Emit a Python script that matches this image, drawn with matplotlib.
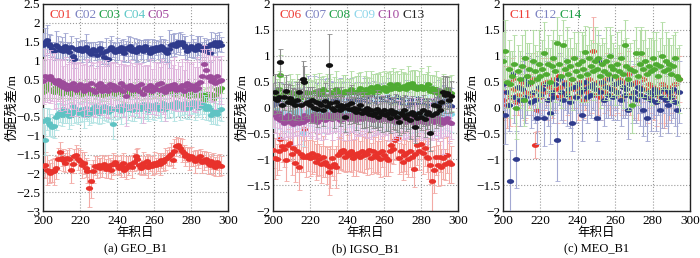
import numpy as np
import matplotlib
matplotlib.use("Agg")
import matplotlib.pyplot as plt
from matplotlib.path import Path
from matplotlib.ticker import FuncFormatter, MultipleLocator

plt.rcParams['font.family'] = ['Liberation Serif', 'Noto Sans CJK SC']
plt.rcParams['axes.unicode_minus'] = True


def arr(s):
    return np.array(s.split(), dtype=float)


# ── Data: day of year and pseudorange residuals (m)
days_ab = np.arange(200, 297)
days_c = np.arange(200, 295)

# (a) GEO_B1
c01 = arr("""
-1.80 -1.78 -1.92 -1.95 -1.98 -1.93 -1.95 -1.85 -1.62 -1.42
-1.60 -1.65 -1.72 -1.58 -1.62 -1.90 -1.75 -1.55 -1.50 -1.62
-1.68 -1.78 -1.72 -1.85 -1.95 -2.40 -2.20 -1.95 -1.80 -1.83
-1.78 -1.85 -1.80 -1.75 -1.88 -1.82 -1.78 -1.90 -1.75 -1.70
-1.78 -1.85 -1.80 -1.72 -1.90 -1.85 -1.80 -1.75 -1.82 -1.70
-1.55 -1.62 -1.78 -1.85 -1.72 -1.80 -1.68 -1.82 -1.75 -1.80
-1.72 -1.78 -1.70 -1.75 -1.65 -1.70 -1.62 -1.58 -1.55 -1.48
-1.65 -1.40 -1.28 -1.25 -1.32 -1.40 -1.45 -1.55 -1.50 -1.62
-1.55 -1.60 -1.68 -1.58 -1.62 -1.55 -1.70 -1.65 -1.62 -1.72
-1.78 -1.68 -1.75 -1.82 -1.70 -1.78 -1.80""")
e01 = arr("""
.30 .35 .40 .30 .25 .30 .35 .30 .30 .25
.20 .30 .25 .20 .30 .35 .25 .20 .25 .30
.30 .35 .30 .25 .30 .50 .45 .30 .25 .30
.20 .25 .30 .20 .25 .30 .20 .25 .30 .20
.25 .20 .30 .25 .20 .30 .25 .20 .30 .25
.20 .30 .25 .20 .30 .25 .20 .30 .20 .25
.30 .20 .25 .30 .20 .25 .30 .20 .25 .30
.20 .30 .25 .20 .25 .30 .20 .25 .20 .30
.25 .20 .30 .20 .25 .20 .30 .25 .20 .30
.25 .20 .30 .25 .20 .30 .25""")

c02 = arr("""
1.42 1.50 1.55 1.45 1.38 1.30 1.25 1.42 1.35 1.28
1.32 1.25 1.38 1.30 1.22 1.35 1.12 1.05 1.30 1.28
1.32 1.25 1.30 1.35 1.28 1.22 1.18 1.30 1.25 1.15
1.28 1.32 1.20 1.10 1.25 1.05 1.30 1.35 1.28 1.22
1.30 1.25 1.35 1.28 1.20 1.32 1.30 1.38 1.25 1.30
1.22 1.28 1.35 1.30 1.25 1.38 1.30 1.28 1.20 1.32
1.25 1.35 1.28 1.30 1.38 1.32 1.25 1.20 1.30 1.40
1.45 1.42 1.38 1.48 1.45 1.50 1.40 1.35 1.25 1.30
1.38 1.32 1.28 1.35 1.40 1.30 1.28 1.35 1.25 1.38
1.20 1.45 1.40 1.48 1.38 1.50 1.42""")
e02 = arr("""
.30 .35 .40 .25 .30 .20 .25 .35 .30 .25
.30 .25 .35 .20 .25 .30 .20 .25 .30 .25
.20 .30 .25 .35 .20 .25 .30 .20 .25 .30
.25 .20 .30 .25 .35 .20 .25 .30 .20 .25
.30 .25 .20 .30 .25 .20 .35 .25 .20 .30
.25 .30 .20 .25 .30 .20 .25 .30 .20 .25
.30 .20 .25 .35 .20 .25 .30 .25 .50 .30
.25 .30 .20 .25 .30 .20 .25 .30 .25 .20
.30 .25 .20 .30 .25 .35 .20 .25 .30 .20
.25 .30 .20 .25 .30 .25 .20""")

c03 = arr("""
0.15 0.30 0.35 0.25 0.40 0.20 0.15 0.30 0.22 0.18
0.12 0.25 0.20 0.15 0.22 0.10 0.28 0.20 0.15 0.25
0.18 0.12 0.22 0.30 0.15 0.20 0.10 0.25 0.18 0.12
0.20 0.15 0.08 0.22 0.18 0.12 0.25 0.15 0.20 0.10
0.18 0.22 0.12 0.15 0.25 0.10 0.20 0.18 0.12 0.22
0.15 0.20 0.25 0.10 0.18 0.22 0.15 0.28 0.12 0.20
0.18 0.25 0.15 0.20 0.12 0.22 0.18 0.25 0.30 0.15
0.20 0.12 0.18 0.25 0.15 0.22 0.10 0.20 0.15 0.05
0.12 0.18 0.08 0.15 0.20 0.05 0.10 -0.05 0.02 0.10
0.05 0.12 -0.02 0.08 0.25 0.20 0.28""")
e03 = arr("""
.20 .15 .20 .25 .15 .20 .15 .20 .25 .15
.20 .15 .20 .15 .25 .20 .15 .20 .15 .20
.15 .20 .25 .15 .20 .15 .20 .15 .20 .25
.15 .20 .15 .20 .25 .15 .20 .15 .20 .15
.20 .15 .20 .25 .15 .20 .15 .20 .15 .20
.25 .15 .20 .15 .20 .15 .25 .20 .15 .20
.15 .20 .15 .25 .20 .15 .20 .15 .20 .25
.15 .20 .15 .20 .25 .15 .20 .15 .20 .15
.20 .25 .15 .20 .15 .25 .20 .30 .25 .20
.25 .20 .30 .20 .15 .20 .15""")

c04 = arr("""
-0.60 -1.12 -0.55 -0.65 -0.72 -0.78 -0.75 -0.50 -0.42 -0.38
-0.45 -0.30 -0.40 -0.35 -0.48 -0.42 -0.22 -0.35 -0.28 -0.40
-0.38 -0.30 -0.45 -0.25 -0.35 -0.42 -0.30 -0.38 -0.20 -0.32
-0.40 -0.28 -0.35 -0.22 -0.30 -0.38 -0.25 -0.32 -0.70 -0.28
-0.30 -0.22 -0.35 -0.25 -0.18 -0.30 -0.28 -0.20 -0.32 -0.25
-0.18 -0.28 -0.22 -0.30 -0.15 -0.25 -0.20 -0.32 -0.18 -0.25
-0.22 -0.15 -0.28 -0.20 -0.25 -0.12 -0.30 -0.18 -0.22 -0.15
-0.20 -0.25 -0.10 -0.18 -0.22 -0.15 -0.28 -0.12 -0.20 -0.25
-0.18 -0.10 -0.22 -0.15 -0.25 -0.12 -0.20 -0.18 -0.28 -0.22
-0.30 -0.45 -0.40 -0.35 -0.42 -0.32 -0.30""")
e04 = arr("""
.35 .40 .30 .35 .30 .25 .30 .35 .30 .25
.30 .35 .25 .30 .35 .30 .25 .30 .35 .30
.25 .30 .35 .30 .25 .30 .35 .25 .30 .35
.30 .25 .30 .35 .30 .25 .30 .35 .40 .30
.25 .30 .35 .25 .30 .35 .30 .25 .30 .35
.30 .25 .30 .35 .25 .30 .35 .30 .25 .30
.35 .30 .25 .30 .35 .25 .30 .35 .30 .25
.30 .35 .25 .30 .35 .30 .25 .30 .35 .30
.25 .30 .35 .30 .25 .30 .35 .25 .30 .35
.30 .25 .30 .35 .30 .25 .30""")

c05 = arr("""
0.45 0.60 0.55 0.50 0.58 0.52 0.45 0.40 0.48 0.35
0.42 0.30 0.38 0.25 0.35 0.28 0.40 0.30 0.22 0.32
0.38 0.28 0.20 0.35 0.30 0.25 0.40 0.22 0.15 0.35
0.28 0.40 0.20 0.32 0.25 0.18 0.38 0.30 0.35 0.22
0.30 0.25 0.40 0.20 0.32 0.05 0.28 0.35 0.22 0.30
0.25 0.32 0.20 0.38 0.10 0.28 0.22 0.30 0.35 0.18
0.30 0.25 0.38 0.22 0.40 0.28 0.15 0.32 0.25 0.35
0.28 0.38 0.22 0.30 0.25 0.35 0.20 0.32 0.40 0.25
0.35 0.30 0.22 0.38 0.28 0.42 0.60 0.90 0.75 0.55
0.60 0.45 0.52 0.40 0.58 0.45 0.48""")
e05 = arr("""
.60 .70 .65 .55 .70 .60 .75 .65 .55 .70
.60 .55 .70 .65 .60 .75 .55 .60 .70 .65
.55 .60 .70 .65 .75 .60 .55 .70 .65 .60
.70 .55 .65 .60 .75 .70 .55 .65 .60 .70
.55 .65 .60 .70 .55 .80 .60 .65 .70 .55
.65 .60 .70 .55 .75 .60 .65 .55 .70 .60
.65 .70 .55 .60 .65 .70 .75 .60 .55 .65
.60 .70 .55 .65 .60 .70 .55 .65 .60 .70
.55 .65 .60 .70 .55 .60 .70 .50 .55 .60
.65 .55 .60 .70 .55 .60 .65""")

# (b) IGSO_B1
c06 = arr("""
-0.82 -0.98 -1.00 -0.85 -0.60 -0.75 -0.80 -1.02 -0.72 -0.68
-0.90 -0.78 -1.08 -0.85 -1.15 -0.90 -0.95 -0.42 -0.95 -0.92
-0.98 -0.88 -0.95 -1.05 -0.92 -1.00 -1.10 -0.95 -1.05 -1.12
-1.25 -1.15 -0.98 -1.10 -1.15 -0.92 -0.88 -0.85 -0.82 -0.95
-0.88 -0.92 -0.85 -0.98 -0.90 -0.92 -0.88 -0.95 -0.85 -0.92
-0.88 -0.90 -0.82 -0.98 -0.85 -0.92 -0.95 -0.88 -1.00 -0.85
-0.92 -0.98 -1.02 -0.85 -0.72 -0.80 -0.62 -0.58 -0.98 -0.85
-1.05 -0.92 -0.88 -1.00 -0.85 -0.95 -1.18 -0.90 -0.72 -0.85
-0.70 -0.88 -0.78 -0.95 -0.98 -1.12 -1.42 -1.20 -0.95 -1.12
-0.95 -1.15 -0.98 -1.10 -0.92 -1.05 -1.10""")
e06 = arr("""
.35 .40 .30 .35 .40 .30 .35 .40 .30 .35
.40 .30 .35 .40 .45 .35 .30 .35 .40 .30
.35 .40 .30 .35 .40 .30 .35 .40 .30 .35
.45 .40 .35 .30 .40 .35 .30 .35 .40 .30
.35 .30 .40 .35 .30 .40 .35 .30 .40 .35
.30 .40 .35 .30 .40 .35 .30 .40 .35 .30
.40 .35 .30 .40 .35 .30 .40 .35 .30 .40
.35 .30 .40 .35 .30 .40 .35 .30 .40 .35
.30 .40 .35 .30 .40 .35 .60 .45 .35 .40
.30 .35 .40 .30 .35 .40 .35""")

c07 = arr("""
0.05 0.12 0.15 0.08 0.20 0.18 0.10 0.15 0.22 0.12
0.18 0.10 0.15 0.20 0.08 0.12 0.18 0.22 0.15 0.25
0.20 0.15 0.25 0.18 0.22 0.28 0.20 0.15 0.25 0.22
0.18 0.22 0.15 0.25 0.20 0.12 0.22 0.18 0.25 0.15
0.20 0.15 0.22 0.18 0.12 0.20 0.25 0.15 0.18 0.22
0.15 0.20 0.12 0.18 0.22 0.15 0.10 0.18 0.20 0.12
0.18 0.15 0.22 0.10 0.18 0.15 0.12 0.20 0.15 0.08
0.15 0.12 0.18 0.05 0.10 0.15 0.08 0.12 0.18 0.10
0.12 0.08 0.15 0.10 0.05 0.12 0.08 0.15 0.10 0.18
0.05 0.12 0.08 0.15 0.10 0.05 0.02""")
e07 = arr("""
.30 .25 .35 .30 .25 .30 .35 .25 .30 .35
.25 .30 .35 .25 .30 .25 .35 .30 .25 .35
.30 .25 .35 .30 .25 .30 .35 .25 .30 .35
.25 .30 .35 .25 .30 .25 .35 .30 .25 .35
.30 .25 .35 .30 .25 .30 .35 .25 .30 .35
.25 .30 .35 .25 .30 .25 .35 .30 .25 .35
.30 .25 .35 .30 .25 .30 .35 .25 .30 .35
.25 .30 .35 .25 .30 .25 .35 .30 .25 .35
.30 .25 .35 .30 .25 .30 .35 .25 .30 .35
.25 .30 .35 .25 .30 .25 .35""")

c08 = arr("""
0.30 0.18 0.25 0.35 0.62 0.20 0.28 0.15 0.22 0.30
0.25 0.18 0.22 0.30 0.15 0.20 0.18 0.22 0.30 0.25
0.28 0.22 0.30 0.25 0.18 0.32 0.28 0.35 0.22 0.30
0.25 0.30 0.22 0.28 0.35 0.25 0.30 0.22 0.28 0.32
0.30 0.25 0.35 0.28 0.22 0.30 0.32 0.38 0.25 0.30
0.35 0.28 0.32 0.40 0.30 0.35 0.42 0.30 0.38 0.35
0.40 0.32 0.38 0.45 0.35 0.42 0.38 0.45 0.35 0.40
0.38 0.42 0.35 0.45 0.40 0.48 0.38 0.42 0.35 0.40
0.42 0.35 0.40 0.38 0.45 0.32 0.38 0.30 0.35 0.28
0.32 0.25 0.30 0.28 0.35 0.30 0.28""")
e08 = arr("""
.30 .25 .30 .35 .40 .25 .30 .25 .30 .35
.30 .25 .30 .35 .25 .30 .25 .30 .35 .30
.25 .30 .35 .30 .25 .35 .30 .25 .30 .35
.30 .35 .25 .30 .35 .30 .25 .30 .35 .30
.25 .30 .35 .30 .25 .30 .35 .30 .25 .30
.35 .30 .25 .30 .35 .30 .25 .35 .30 .25
.30 .35 .30 .25 .30 .35 .30 .25 .30 .35
.30 .25 .30 .35 .30 .25 .35 .30 .25 .30
.35 .30 .25 .30 .35 .30 .25 .30 .35 .30
.25 .30 .35 .30 .25 .30 .35""")

c09 = arr("""
-0.10 -0.15 -0.05 -0.12 -0.20 -0.08 -0.15 -0.10 -0.18 -0.12
-0.08 -0.15 -0.10 -0.12 -0.05 -0.15 -0.50 -0.10 -0.12 -0.08
-0.05 -0.10 -0.08 -0.12 -0.05 -0.10 -0.15 -0.08 -0.10 -0.05
-0.12 -0.08 -0.10 -0.15 -0.05 -0.10 -0.12 -0.08 -0.15 -0.10
-0.08 -0.12 -0.05 -0.10 -0.15 -0.08 -0.12 -0.10 -0.05 -0.12
-0.10 -0.15 -0.08 -0.12 -0.18 -0.10 -0.05 -0.12 -0.15 -0.10
-0.12 -0.08 -0.15 -0.10 -0.18 -0.12 -0.08 -0.15 -0.20 -0.10
-0.15 -0.12 -0.18 -0.10 -0.15 -0.20 -0.12 -0.18 -0.10 -0.15
-0.12 -0.18 -0.15 -0.20 -0.10 -0.15 -0.18 -0.12 -0.20 -0.15
-0.18 -0.12 -0.15 -0.10 -0.18 -0.15 -0.12""")
e09 = arr("""
.30 .35 .25 .30 .35 .25 .30 .35 .30 .25
.30 .35 .25 .30 .35 .30 .25 .30 .35 .25
.30 .25 .35 .30 .25 .30 .35 .25 .30 .35
.25 .30 .35 .25 .30 .35 .30 .25 .30 .35
.30 .25 .30 .35 .25 .30 .35 .30 .25 .30
.35 .30 .25 .30 .35 .25 .30 .35 .30 .25
.30 .35 .30 .25 .30 .35 .25 .30 .35 .30
.25 .30 .35 .30 .25 .30 .35 .30 .25 .30
.35 .30 .25 .30 .35 .30 .25 .30 .35 .30
.25 .30 .35 .30 .25 .30 .35""")

c10 = arr("""
-0.08 -0.15 -0.20 -0.10 -0.25 -0.18 -0.30 -0.22 -0.15 -0.28
-0.20 -0.32 -0.25 -0.18 -0.30 -0.22 -0.28 -0.15 -0.25 -0.20
-0.18 -0.25 -0.12 -0.20 -0.28 -0.15 -0.22 -0.18 -0.25 -0.12
-0.20 -0.15 -0.22 -0.18 -0.10 -0.20 -0.25 -0.15 -0.22 -0.18
-0.15 -0.22 -0.18 -0.12 -0.20 -0.25 -0.18 -0.15 -0.22 -0.20
-0.18 -0.15 -0.22 -0.20 -0.25 -0.18 -0.12 -0.20 -0.25 -0.15
-0.22 -0.18 -0.25 -0.20 -0.15 -0.22 -0.28 -0.20 -0.25 -0.18
-0.25 -0.20 -0.28 -0.22 -0.18 -0.25 -0.30 -0.22 -0.28 -0.20
-0.22 -0.28 -0.25 -0.30 -0.20 -0.25 -0.22 -0.28 -0.18 -0.25
-0.28 -0.22 -0.30 -0.25 -0.20 -0.28 -0.30""")
e10 = arr("""
.30 .35 .40 .30 .35 .40 .30 .35 .40 .30
.35 .40 .30 .35 .40 .30 .35 .40 .30 .35
.40 .30 .35 .40 .30 .35 .40 .30 .35 .40
.30 .35 .40 .30 .35 .40 .30 .35 .40 .30
.35 .40 .30 .35 .40 .30 .35 .40 .30 .35
.40 .30 .35 .40 .30 .35 .40 .30 .35 .40
.30 .35 .40 .30 .35 .40 .30 .35 .40 .30
.35 .40 .30 .35 .40 .30 .35 .40 .30 .35
.40 .30 .35 .40 .30 .35 .40 .30 .35 .40
.30 .35 .60 .30 .35 .40 .30""")

c13 = arr("""
0.18 0.30 0.15 0.20 0.88 0.05 0.20 0.32 0.10 0.18
0.08 0.12 0.05 0.15 0.30 0.05 0.55 0.50 0.08 0.10
0.05 0.15 0.00 0.10 -0.02 0.08 0.05 -0.05 0.12 0.02
0.82 0.08 0.00 -0.05 0.10 0.02 -0.05 0.05 0.00 -0.18
0.05 -0.02 0.08 -0.05 0.00 -0.08 -0.02 0.05 -0.10 -0.05
-0.08 0.00 -0.12 -0.05 -0.15 -0.10 -0.02 -0.18 -0.08 -0.12
-0.05 -0.15 -0.10 -0.20 -0.05 -0.12 -0.08 -0.18 -0.28 -0.10
-0.15 -0.05 -0.20 -0.12 -0.25 -0.08 -0.15 -0.38 -0.20 -0.10
-0.18 -0.05 -0.22 -0.12 -0.08 -0.50 -0.15 0.05 -0.10 0.02
-0.05 0.10 0.30 0.25 0.28 0.15 0.22""")
e13 = arr("""
.30 .35 .25 .30 .25 .30 .25 .30 .35 .25
.30 .25 .30 .35 .25 .30 .35 .30 .25 .30
.35 .25 .30 .25 .35 .30 .25 .30 .35 .25
.60 .30 .25 .35 .30 .25 .30 .35 .25 .30
.25 .30 .35 .25 .30 .35 .30 .25 .30 .35
.30 .25 .35 .30 .25 .30 .35 .25 .30 .35
.25 .30 .35 .30 .25 .30 .35 .30 .25 .30
.35 .30 .25 .30 .35 .30 .25 .30 .35 .30
.25 .30 .35 .30 .25 .35 .30 .25 .30 .35
.30 .25 .30 .35 .30 .25 .30""")

# (c) MEO_B1
c11 = arr("""
0.15 0.30 0.05 0.45 0.20 0.55 0.35 0.10 0.25 0.40
0.50 0.15 0.30 0.60 0.45 0.25 0.55 -0.72 -0.05 0.35
0.20 0.45 0.30 0.50 0.15 0.40 0.25 0.55 0.35 0.20
0.60 0.40 0.25 0.50 0.30 0.45 0.20 0.55 0.35 0.40
0.25 0.50 0.35 0.15 0.45 0.30 0.55 0.40 1.10 0.25
0.50 0.35 0.20 0.45 0.30 0.55 0.40 0.25 0.60 0.35
0.45 0.30 0.55 0.20 0.40 0.50 0.35 0.65 0.25 0.45
0.30 0.50 0.15 0.40 0.25 0.55 0.35 0.20 0.45 0.30
0.40 0.25 0.10 0.35 0.20 0.45 0.30 0.15 0.40 0.25
0.35 0.20 0.45 0.30 0.55""")
e11 = arr("""
.40 .50 .45 .35 .55 .40 .50 .45 .40 .35
.45 .40 .50 .35 .45 .40 .50 .25 .40 .45
.40 .50 .35 .45 .40 .50 .45 .35 .40 .50
.45 .40 .50 .35 .45 .40 .50 .45 .35 .40
.50 .45 .40 .35 .50 .45 .40 .50 .65 .45
.40 .50 .45 .35 .40 .50 .45 .40 .35 .50
.45 .40 .50 .35 .45 .40 .50 .45 .40 .35
.50 .45 .40 .50 .35 .45 .40 .50 .45 .40
.35 .50 .45 .40 .50 .35 .70 .45 .40 .50
.45 .40 .50 .35 .45""")

c12 = arr("""
0.45 -0.15 0.30 0.05 -1.42 0.65 0.20 -1.00 0.40 0.15
0.35 0.55 0.20 0.45 0.50 0.10 0.30 0.15 -0.20 0.40
0.25 0.35 -0.20 0.45 0.15 -0.10 0.30 0.20 0.45 -0.62
0.55 0.30 0.15 0.45 0.25 0.35 0.10 -0.30 0.40 0.20
0.45 0.30 -0.15 0.35 0.50 0.20 0.40 0.25 0.45 0.35
-0.20 0.90 0.30 0.50 0.15 0.40 0.25 0.55 0.35 0.20
0.45 0.30 0.50 0.15 0.40 0.25 0.35 -0.05 0.45 0.20
0.30 0.15 0.40 0.25 0.35 -0.05 0.20 -0.20 0.30 0.15
0.25 0.35 0.10 0.30 -0.05 0.20 0.35 0.15 0.05 0.30
0.20 0.35 0.10 -0.05 0.30""")
e12 = arr("""
.50 .55 .45 .50 .60 .45 .50 .55 .45 .50
.55 .45 .50 .60 .45 .50 .55 .45 .50 .60
.45 .50 .55 .45 .50 .60 .45 .50 .55 .80
.50 .55 .45 .50 .60 .45 .50 .55 .45 .50
.55 .45 .50 .60 .45 .50 .55 .45 .50 .60
.45 .50 .55 .45 .50 .60 .45 .50 .55 .45
.50 .55 .45 .50 .60 .45 .50 .55 .45 .50
.55 .45 .50 .60 .45 .50 .55 .45 .50 .60
.45 .50 .55 .45 .50 .60 .45 .50 .55 .45
.50 .55 .45 .50 .60""")

c14 = arr("""
0.90 1.10 0.50 0.75 0.45 0.60 0.85 0.00 0.70 0.55
0.80 0.15 0.95 0.60 0.75 0.50 0.90 0.70 0.55 0.85
0.60 0.75 1.05 0.65 0.85 0.50 0.80 0.95 0.70 1.25
0.85 0.60 1.20 0.75 0.90 0.65 0.80 0.55 0.95 0.70
0.85 0.60 0.90 0.75 1.08 0.65 0.95 0.80 0.70 0.90
0.75 0.95 0.60 0.85 0.70 0.90 0.65 1.00 0.80 0.75
0.60 0.85 0.70 0.95 0.65 1.20 0.80 0.55 0.75 0.05
0.70 1.05 0.60 0.85 1.05 0.75 0.90 0.65 0.80 0.70
0.95 0.75 0.85 0.60 0.80 1.00 0.70 0.90 0.75 0.85
0.65 0.80 0.95 0.60 0.55""")
e14 = arr("""
.55 .60 .50 .55 .65 .50 .55 .60 .50 .55
.60 .50 .55 .65 .50 .55 .60 .50 .55 .65
.50 .55 .60 .50 .55 .65 .50 .55 .60 .50
.55 .60 .50 .55 .65 .50 .55 .60 .50 .55
.60 .50 .55 .65 .50 .55 .60 .50 .55 .65
.50 .55 .60 .50 .55 .65 .50 .55 .60 .50
.55 .60 .50 .55 .65 .50 .55 .60 .50 .55
.60 .50 .55 .65 .50 .55 .60 .50 .55 .65
.50 .55 .60 .50 .55 .65 .50 .55 .60 .50
.55 .60 .50 .55 .65""")

# ── Colours: (marker, error bar, legend text)
RED    = ("#e8322b", "#f3aaa5", "#ee3b33")
NAVY   = ("#2f3b8c", "#a3a8d2", "#7c82c2")
GREEN  = ("#4fab32", "#b3dda5", "#1fa047")
CYAN   = ("#5fc3c3", "#b4e3e3", "#5ec8c8")
PURPLE = ("#9c4b9a", "#e0b6dd", "#a3479f")
LCYAN  = ("#7fd3e6", "#c2eaf3", "#8ed6ea")
BLACK  = ("#111111", "#8a8a8a", "#222222")

panels = [
    dict(days=days_ab, ylim=(-3, 2.5), caption="(a) GEO_B1",
         series=[("C01", c01, e01, RED), ("C02", c02, e02, NAVY),
                 ("C03", c03, e03, GREEN), ("C04", c04, e04, CYAN),
                 ("C05", c05, e05, PURPLE)]),
    dict(days=days_ab, ylim=(-2, 2), caption="(b) IGSO_B1",
         series=[("C06", c06, e06, RED), ("C07", c07, e07, NAVY),
                 ("C08", c08, e08, GREEN), ("C09", c09, e09, LCYAN),
                 ("C10", c10, e10, PURPLE), ("C13", c13, e13, BLACK)]),
    dict(days=days_c, ylim=(-2, 2), caption="(c) MEO_B1",
         series=[("C11", c11, e11, RED), ("C12", c12, e12, NAVY),
                 ("C14", c14, e14, GREEN)]),
]

# horizontally stretched dot, as in the original
_circ = Path.unit_circle()
ELLIPSE = Path(_circ.vertices * np.array([1.5, 1.0]), _circ.codes)


def fmt(v, _pos):
    return f"{v:g}".replace("-", "\u2212")


fig = plt.figure(figsize=(7.0, 2.58), dpi=100)
lefts = [43, 273, 503]
widths = [185, 185, 187]

for i, p in enumerate(panels):
    ax = fig.add_axes([lefts[i] / 700, 47 / 258, widths[i] / 700, 207 / 258])
    for k, (name, y, e, col) in enumerate(p["series"]):
        ax.errorbar(p["days"], y, yerr=e, fmt="none", ecolor=col[1],
                    elinewidth=0.8, capsize=1.8, capthick=0.6,
                    zorder=2 + 2 * k)
        ax.plot(p["days"], y, ls="none", marker=ELLIPSE, ms=5.2,
                color=col[0], mec=col[0], mew=0, zorder=3 + 2 * k)

    # coloured satellite labels across the top
    for k, (name, _, _, col) in enumerate(p["series"]):
        ax.text(0.035 + 0.133 * k, 0.945, name, color=col[2], fontsize=9.5,
                transform=ax.transAxes, ha="left", va="center", zorder=30)

    ax.set_xlim(200, 300)
    ax.set_ylim(*p["ylim"])
    ax.xaxis.set_major_locator(MultipleLocator(20))
    ax.yaxis.set_major_locator(MultipleLocator(0.5))
    ax.yaxis.set_major_formatter(FuncFormatter(fmt))
    ax.grid(True, ls=":", lw=0.8, color="#9a9a9a")
    ax.set_axisbelow(True)
    ax.tick_params(direction="in", length=0, labelsize=9.5, pad=2)
    ax.tick_params(axis="x", pad=3)
    for s in ax.spines.values():
        s.set_linewidth(1.0)
        s.set_color("#222222")
    ax.set_xlabel("年积日", fontsize=9, va="center")
    ax.xaxis.set_label_coords(0.5, -0.108)
    ax.set_ylabel("伪距残差/m", fontsize=9.5, va="center")
    ax.yaxis.set_label_coords(-0.165, 0.5)
    cx = (lefts[i] + widths[i] / 2) / 700
    fig.text(cx, 9 / 258, p["caption"], ha="center", va="center",
             fontsize=9)

fig.savefig("out.png", dpi=100)
